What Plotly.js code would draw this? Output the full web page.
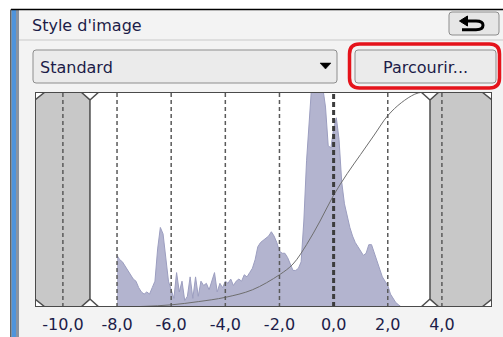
<!DOCTYPE html>
<html>
<head>
<meta charset="utf-8">
<script src="https://cdn.plot.ly/plotly-3.0.1.min.js"></script>
<style>html,body{margin:0;padding:0;background:#fff;}#chart{width:503px;height:337px;}</style>
</head>
<body>
<div id="chart"></div>
<script>
// ---- data ----
const tickVals = [-10, -8, -6, -4, -2, 0, 2, 4];
const tickText = ['-10,0', '-8,0', '-6,0', '-4,0', '-2,0', '0,0', '2,0', '4,0'];

const histX = [-8.0,-7.9,-7.8,-7.7,-7.6,-7.5,-7.4,-7.3,-7.2,-7.1,-7.0,-6.9,-6.8,-6.7,-6.6,-6.5,-6.4,-6.3,-6.2,-6.1,
  -6.0,-5.9,-5.8,-5.7,-5.6,-5.5,-5.4,-5.3,-5.2,-5.1,-5.0,-4.9,-4.8,-4.7,-4.6,-4.5,-4.4,-4.3,-4.2,-4.1,
  -4.0,-3.9,-3.8,-3.7,-3.6,-3.5,-3.4,-3.3,-3.2,-3.1,-3.0,-2.9,-2.8,-2.7,-2.6,-2.5,-2.4,-2.3,-2.2,-2.1,
  -2.0,-1.9,-1.8,-1.7,-1.6,-1.5,-1.4,-1.3,-1.2,-1.1,-1.0,-0.9,-0.8,-0.7,-0.6,-0.5,-0.4,-0.3,-0.2,-0.1,
  0.0,0.1,0.2,0.3,0.4,0.5,0.6,0.7,0.8,0.9,1.0,1.1,1.2,1.3,1.4,1.5,1.6,1.7,1.8,1.9,2.0,2.1,2.2,2.3,2.4,2.5];
const histY = [0.24,0.22,0.21,0.19,0.17,0.15,0.13,0.12,0.09,0.07,0.06,0.07,0.06,0.09,0.12,0.27,0.37,0.34,0.22,0.12,
  0.08,0.04,0.16,0.07,0.12,0.03,0.05,0.14,0.04,0.14,0.05,0.12,0.10,0.11,0.08,0.12,0.16,0.07,0.11,0.09,
  0.12,0.11,0.13,0.10,0.12,0.13,0.12,0.15,0.14,0.16,0.18,0.22,0.28,0.30,0.31,0.32,0.33,0.35,0.33,0.30,
  0.26,0.25,0.25,0.23,0.20,0.17,0.17,0.18,0.21,0.40,0.68,0.90,1.05,1.05,1.05,1.05,1.02,0.93,0.75,0.74,
  0.83,0.88,0.78,0.58,0.48,0.42,0.37,0.33,0.30,0.28,0.26,0.24,0.25,0.29,0.29,0.25,0.21,0.17,0.14,0.12,0.10,0.06,0.04,0.02,0.01,0.0];

const curveX = [-8, -7, -6, -5, -4, -3, -2, -1.5, -1, -0.5, 0, 0.5, 1, 1.5, 2, 2.5, 3, 3.3];
const curveY = [0, 0.003, 0.01, 0.025, 0.045, 0.08, 0.15, 0.2, 0.29, 0.4, 0.52, 0.62, 0.71, 0.8, 0.89, 0.95, 0.99, 1.0];

const clipLow = -9.0;   // left shaded limit
const clipHigh = 3.56;  // right shaded limit
const xMin = -11.03, xMax = 5.85;

const titleText = "Style d'image";
const presetText = 'Standard';
const browseText = 'Parcourir...';

// ---- helpers (pixel -> paper) ----
const W = 503, H = 337;
const X = p => p / W;
const Y = p => 1 - p / H;
function rr(x0, y0, x1, y1, r) {
  const a = (x, y) => X(x) + ',' + Y(y);
  return 'M' + a(x0 + r, y0) + ' L' + a(x1 - r, y0) + ' Q' + a(x1, y0) + ' ' + a(x1, y0 + r) +
    ' L' + a(x1, y1 - r) + ' Q' + a(x1, y1) + ' ' + a(x1 - r, y1) +
    ' L' + a(x0 + r, y1) + ' Q' + a(x0, y1) + ' ' + a(x0, y1 - r) +
    ' L' + a(x0, y0 + r) + ' Q' + a(x0, y0) + ' ' + a(x0 + r, y0) + ' Z';
}
function pp(pts) { return 'M' + pts.map(p => X(p[0]) + ',' + Y(p[1])).join(' L'); }

const FONT = 'DejaVu Sans, Verdana, sans-serif';
const TXT = '#1c1c48';
const shapes = [];

// panel chrome
shapes.push({type: 'rect', xref: 'paper', yref: 'paper', x0: X(11), x1: X(503), y0: Y(337), y1: Y(10), fillcolor: '#f3f3f3', line: {width: 0}, layer: 'below'});
shapes.push({type: 'rect', xref: 'paper', yref: 'paper', x0: X(11.5), x1: X(16), y0: Y(337), y1: Y(10), fillcolor: '#4f94dc', line: {width: 0}, layer: 'below'});
shapes.push({type: 'rect', xref: 'paper', yref: 'paper', x0: X(16), x1: X(19), y0: Y(337), y1: Y(10), fillcolor: '#8a93a0', line: {width: 0}, layer: 'below'});
shapes.push({type: 'line', xref: 'paper', yref: 'paper', x0: X(11), x1: X(503), y0: Y(9.5), y1: Y(9.5), line: {color: '#000', width: 1.5}});
shapes.push({type: 'line', xref: 'paper', yref: 'paper', x0: X(10.8), x1: X(10.8), y0: Y(9.5), y1: Y(337), line: {color: '#222', width: 1}});
shapes.push({type: 'line', xref: 'paper', yref: 'paper', x0: X(19), x1: X(503), y0: Y(40), y1: Y(40), line: {color: '#c9c9c9', width: 1}});

// undo button
shapes.push({type: 'path', xref: 'paper', yref: 'paper', path: rr(449, 12, 499, 35, 3), fillcolor: '#e6e6e6', line: {color: '#8d8d8d', width: 1}});
shapes.push({type: 'path', xref: 'paper', yref: 'paper', path: pp([[459.5, 21], [467.5, 16], [467.5, 26]]) + ' Z', fillcolor: '#000', line: {color: '#000', width: 1}});
shapes.push({type: 'path', xref: 'paper', yref: 'paper',
  path: 'M' + X(466) + ',' + Y(21) + ' L' + X(476) + ',' + Y(21) + ' Q' + X(483) + ',' + Y(21) + ' ' + X(483) + ',' + Y(25.3) +
    ' Q' + X(483) + ',' + Y(29.7) + ' ' + X(476) + ',' + Y(29.7) + ' L' + X(462) + ',' + Y(29.7),
  line: {color: '#000', width: 3}});

// dropdown
shapes.push({type: 'path', xref: 'paper', yref: 'paper', path: rr(33, 50, 337, 83, 3), fillcolor: '#ebebeb', line: {color: '#8d8d8d', width: 1}});
shapes.push({type: 'path', xref: 'paper', yref: 'paper', path: pp([[320, 63], [331, 63], [325.5, 69]]) + ' Z', fillcolor: '#000', line: {color: '#000', width: 0.5}});
// browse button
shapes.push({type: 'path', xref: 'paper', yref: 'paper', path: rr(355, 50, 496, 83, 3), fillcolor: '#ebebeb', line: {color: '#8d8d8d', width: 1}});
// red highlight
shapes.push({type: 'path', xref: 'paper', yref: 'paper', path: rr(349.5, 44, 499.5, 88, 10), line: {color: '#e5131b', width: 3.5}});

// plot frame background
shapes.push({type: 'rect', xref: 'x', yref: 'y', x0: xMin, x1: xMax, y0: 0, y1: 1, fillcolor: '#ffffff', line: {width: 0}, layer: 'below'});

// shaded clip regions
const cx = 0.37, nx = 0.33, cy = 0.037;
function dpath(pts) { return 'M' + pts.map(p => p[0] + ',' + p[1]).join(' L'); }
shapes.push({type: 'path', xref: 'x', yref: 'y', fillcolor: '#c8c8c8', line: {color: '#4d4d4d', width: 1.5},
  path: dpath([[xMin, 1 - cy], [xMin + cx, 1], [clipLow - nx, 1], [clipLow, 1 - cy], [clipLow, cy], [clipLow - nx, 0], [xMin + cx, 0], [xMin, cy]]) + ' Z'});
shapes.push({type: 'path', xref: 'x', yref: 'y', fillcolor: '#c8c8c8', line: {color: '#4d4d4d', width: 1.5},
  path: dpath([[clipHigh, 1 - cy], [clipHigh + nx, 1], [xMax - cx, 1], [xMax, 1 - cy], [xMax, cy], [xMax - cx, 0], [clipHigh + nx, 0], [clipHigh, cy]]) + ' Z'});
// notch outer edges
shapes.push({type: 'path', xref: 'x', yref: 'y', line: {color: '#4d4d4d', width: 1.5}, path: dpath([[clipLow + nx, 1], [clipLow, 1 - cy]])});
shapes.push({type: 'path', xref: 'x', yref: 'y', line: {color: '#4d4d4d', width: 1.5}, path: dpath([[clipLow + nx, 0], [clipLow, cy]])});
shapes.push({type: 'path', xref: 'x', yref: 'y', line: {color: '#4d4d4d', width: 1.5}, path: dpath([[clipHigh - nx, 1], [clipHigh, 1 - cy]])});
shapes.push({type: 'path', xref: 'x', yref: 'y', line: {color: '#4d4d4d', width: 1.5}, path: dpath([[clipHigh - nx, 0], [clipHigh, cy]])});

// dashed guide lines at tick positions
tickVals.forEach(v => {
  shapes.push({type: 'line', xref: 'x', yref: 'y', x0: v, x1: v, y0: 0, y1: 1,
    line: {color: v === 0 ? '#3c3c3c' : '#5a5a5a', width: v === 0 ? 3 : 1.5, dash: v === 0 ? '5px,3px' : '4px,3px'}});
});

// plot border
shapes.push({type: 'rect', xref: 'x', yref: 'y', x0: xMin, x1: xMax, y0: 0, y1: 1, line: {color: '#4a4a4a', width: 2}});

const annotations = [
  {xref: 'paper', yref: 'paper', x: X(30), y: Y(25), xanchor: 'left', yanchor: 'middle', text: titleText, showarrow: false, font: {family: FONT, size: 16, color: TXT}},
  {xref: 'paper', yref: 'paper', x: X(38), y: Y(67), xanchor: 'left', yanchor: 'middle', text: presetText, showarrow: false, font: {family: FONT, size: 16, color: TXT}},
  {xref: 'paper', yref: 'paper', x: X(425), y: Y(67), xanchor: 'center', yanchor: 'middle', text: browseText, showarrow: false, font: {family: FONT, size: 16, color: TXT}}
];

const traces = [
  {x: histX, y: histY, type: 'scatter', mode: 'lines', fill: 'tozeroy', fillcolor: '#b3b4cf', line: {color: '#9c9ec0', width: 1}, hoverinfo: 'skip'},
  {x: curveX, y: curveY, type: 'scatter', mode: 'lines', line: {color: '#6e6e6e', width: 1, shape: 'spline'}, hoverinfo: 'skip'}
];

const layout = {
  width: W, height: H,
  margin: {l: 0, r: 0, t: 0, b: 0},
  paper_bgcolor: '#ffffff', plot_bgcolor: 'rgba(0,0,0,0)',
  showlegend: false,
  xaxis: {domain: [X(35), X(492)], range: [xMin, xMax], tickvals: tickVals, ticktext: tickText,
    showgrid: false, zeroline: false, showline: false, ticks: '', ticklabelstandoff: 6,
    tickfont: {family: FONT, size: 16, color: TXT}, fixedrange: true},
  yaxis: {domain: [Y(307), Y(92)], range: [0, 1], visible: false, fixedrange: true},
  shapes: shapes,
  annotations: annotations
};

Plotly.newPlot('chart', traces, layout, {staticPlot: true, displayModeBar: false});
</script>
</body>
</html>
